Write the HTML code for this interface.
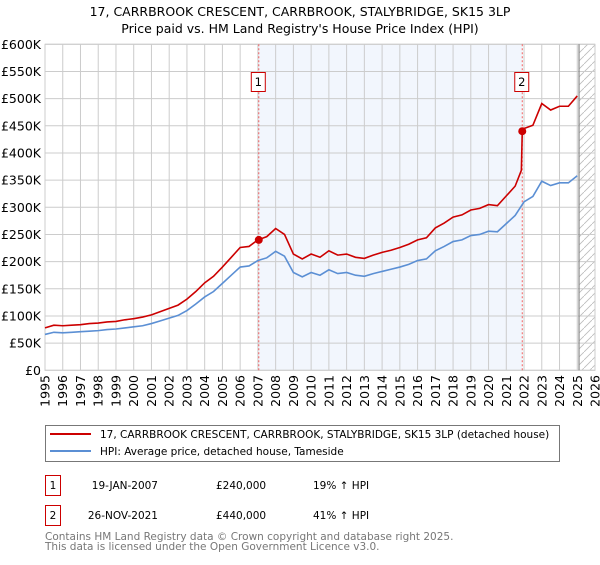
<!DOCTYPE html>
<html><head><meta charset="utf-8">
<style>
body{margin:0;background:#fff;font-family:"Liberation Sans","DejaVu Sans",sans-serif;}
svg text{font-family:"DejaVu Sans","Liberation Sans",sans-serif;}
</style></head>
<body>
<svg id="chart" width="600" height="560" viewBox="0 0 600 560" xmlns="http://www.w3.org/2000/svg">
<text x="300" y="16" text-anchor="middle" font-size="12.5" fill="#000">17, CARRBROOK CRESCENT, CARRBROOK, STALYBRIDGE, SK15 3LP</text>
<text x="300" y="33" text-anchor="middle" font-size="12.5" fill="#000">Price paid vs. HM Land Registry's House Price Index (HPI)</text>
<g id="plot"></g>
<rect x="45.5" y="425.5" width="514" height="36" fill="#fff" stroke="#777"/>
<line x1="50" y1="434" x2="91" y2="434" stroke="#cc0000" stroke-width="2"/>
<text x="100" y="438" font-size="10.5">17, CARRBROOK CRESCENT, CARRBROOK, STALYBRIDGE, SK15 3LP (detached house)</text>
<line x1="50" y1="451" x2="91" y2="451" stroke="#5b8fd4" stroke-width="2"/>
<text x="100" y="455" font-size="10.5">HPI: Average price, detached house, Tameside</text>
<g>
<rect x="45.5" y="475.5" width="15" height="20" fill="#fff" stroke="#cc0000"/>
<text x="53" y="489" text-anchor="middle" font-size="10.5">1</text>
<text x="158" y="489" text-anchor="end" font-size="10.5">19-JAN-2007</text>
<text x="216" y="489" font-size="10.5">£240,000</text>
<text x="313" y="489" font-size="10.5">19% ↑ HPI</text>
</g>
<g>
<rect x="45.5" y="505.5" width="15" height="20" fill="#fff" stroke="#cc0000"/>
<text x="53" y="519" text-anchor="middle" font-size="10.5">2</text>
<text x="158" y="519" text-anchor="end" font-size="10.5">26-NOV-2021</text>
<text x="216" y="519" font-size="10.5">£440,000</text>
<text x="313" y="519" font-size="10.5">41% ↑ HPI</text>
</g>
<text x="45" y="540" font-size="10.5" fill="#777">Contains HM Land Registry data © Crown copyright and database right 2025.</text>
<text x="45" y="550" font-size="10.5" fill="#777">This data is licensed under the Open Government Licence v3.0.</text>
</svg>
<script>
const yTicks=[0,50,100,150,200,250,300,350,400,450,500,550,600];
const yTickLabels=["£0","£50K","£100K","£150K","£200K","£250K","£300K","£350K","£400K","£450K","£500K","£550K","£600K"];
const xYears=[1995,1996,1997,1998,1999,2000,2001,2002,2003,2004,2005,2006,2007,2008,2009,2010,2011,2012,2013,2014,2015,2016,2017,2018,2019,2020,2021,2022,2023,2024,2025,2026];
const hpiT=[1995,1995.5,1996,1996.5,1997,1997.5,1998,1998.5,1999,1999.5,2000,2000.5,2001,2001.5,2002,2002.5,2003,2003.5,2004,2004.5,2005,2005.5,2006,2006.5,2007,2007.5,2008,2008.5,2009,2009.5,2010,2010.5,2011,2011.5,2012,2012.5,2013,2013.5,2014,2014.5,2015,2015.5,2016,2016.5,2017,2017.5,2018,2018.5,2019,2019.5,2020,2020.5,2021,2021.5,2022,2022.5,2023,2023.5,2024,2024.5,2025];
const hpiV=[66,70,69,70,71,72,73,75,76,78,80,82,86,91,96,101,110,122,135,145,160,175,190,192,202,207,219,210,180,172,180,175,185,178,180,175,173,178,182,186,190,195,202,205,220,228,237,240,248,250,256,255,270,285,310,320,348,340,345,345,358];
const priceT=[1995,1995.5,1996,1996.5,1997,1997.5,1998,1998.5,1999,1999.5,2000,2000.5,2001,2001.5,2002,2002.5,2003,2003.5,2004,2004.5,2005,2005.5,2006,2006.5,2007,2007.5,2008,2008.5,2009,2009.5,2010,2010.5,2011,2011.5,2012,2012.5,2013,2013.5,2014,2014.5,2015,2015.5,2016,2016.5,2017,2017.5,2018,2018.5,2019,2019.5,2020,2020.5,2021,2021.5,2021.85,2021.9,2022,2022.5,2023,2023.5,2024,2024.5,2025];
const priceV=[78,83,82,83,84,86,87,89,90,93,95,98,102,108,114,120,131,145,161,173,190,208,226,228,240,246,261,250,214,205,214,208,220,212,214,208,206,212,217,221,226,232,240,244,262,271,282,286,295,298,305,303,321,339,368,440,445,451,491,479,486,486,505];
const saleT=[2007.05,2021.9];
const saleV=[240,440];
const saleLabels=["1","2"];

const X0=45,X1=595,Y0=370.3,Y1=44.3;
const xs=t=>X0+(t-1995)/(2026-1995)*(X1-X0);
const ys=v=>Y0-v/600*(Y0-Y1);
const NS="http://www.w3.org/2000/svg";
const plot=document.getElementById('plot');
function mk(tag,attrs,parent){const e=document.createElementNS(NS,tag);for(const k in attrs)e.setAttribute(k,attrs[k]);(parent||plot).appendChild(e);return e;}

const bg=mk('rect',{x:X0,y:Y1,width:X1-X0,height:Y0-Y1,fill:'#fff'});


const shade=mk('rect',{x:xs(saleT[0]),y:Y1,width:xs(saleT[1])-xs(saleT[0]),height:Y0-Y1,fill:'#eef3fc',opacity:0.75});


const defs=mk('defs',{});
const pat=mk('pattern',{id:'hatch',patternUnits:'userSpaceOnUse',width:8,height:8},defs);
mk('path',{d:'M0,8 L8,0',stroke:'#bbb','stroke-width':0.8},pat);
const hatch=mk('rect',{x:xs(2025.1),y:Y1,width:X1-xs(2025.1),height:Y0-Y1,fill:'url(#hatch)'});



yTicks.forEach((v,i)=>{
  const l=mk('line',{x1:X0,x2:X1,y1:ys(v),y2:ys(v),stroke:'#ccc','stroke-width':1});
  
  
  const t=mk('text',{x:X0-4,y:ys(v)+4.5,'text-anchor':'end','font-size':12.5,fill:'#000'});
  
  
  t.textContent=yTickLabels[i];
});
xYears.forEach(yr=>{
  const l=mk('line',{x1:xs(yr),x2:xs(yr),y1:Y1,y2:Y0,stroke:'#ccc','stroke-width':1});
  
  
  const t=mk('text',{x:0,y:0,'text-anchor':'end','font-size':12.5,fill:'#000',transform:`translate(${xs(yr)+4.5},375) rotate(-90)`});
  
  
  t.textContent=yr;
});
const border=mk('rect',{x:X0,y:Y1,width:X1-X0,height:Y0-Y1,fill:'none',stroke:'#ccc'});


const nowLine=mk('line',{x1:xs(2025.1),x2:xs(2025.1),y1:Y1,y2:Y0,stroke:'#888','stroke-width':1.2});



saleT.forEach((t,i)=>{
  const l=mk('line',{x1:xs(t),x2:xs(t),y1:Y1,y2:Y0,stroke:'#f06060','stroke-width':1,'stroke-dasharray':'2,2'});
  
  
});

const hp=mk('polyline',{points:hpiT.map((t,i)=>xs(t)+','+ys(hpiV[i])).join(' '),fill:'none',stroke:'#5b8fd4','stroke-width':1.6});


const pp=mk('polyline',{points:priceT.map((t,i)=>xs(t)+','+ys(priceV[i])).join(' '),fill:'none',stroke:'#cc0000','stroke-width':1.6});



saleT.forEach((t,i)=>{
  const c=mk('circle',{cx:xs(t),cy:ys(saleV[i]),r:4,fill:'#cc0000'});
  
  
  const g=mk('g',{});
  
  
  mk('rect',{x:xs(t)-7.5,y:72.5,width:14,height:19,fill:'#fff',stroke:'#cc0000'},g);
  const tx=mk('text',{x:xs(t)-0.5,y:86,'text-anchor':'middle','font-size':11.5},g);
  tx.textContent=saleLabels[i];
});
</script>
</body></html>
